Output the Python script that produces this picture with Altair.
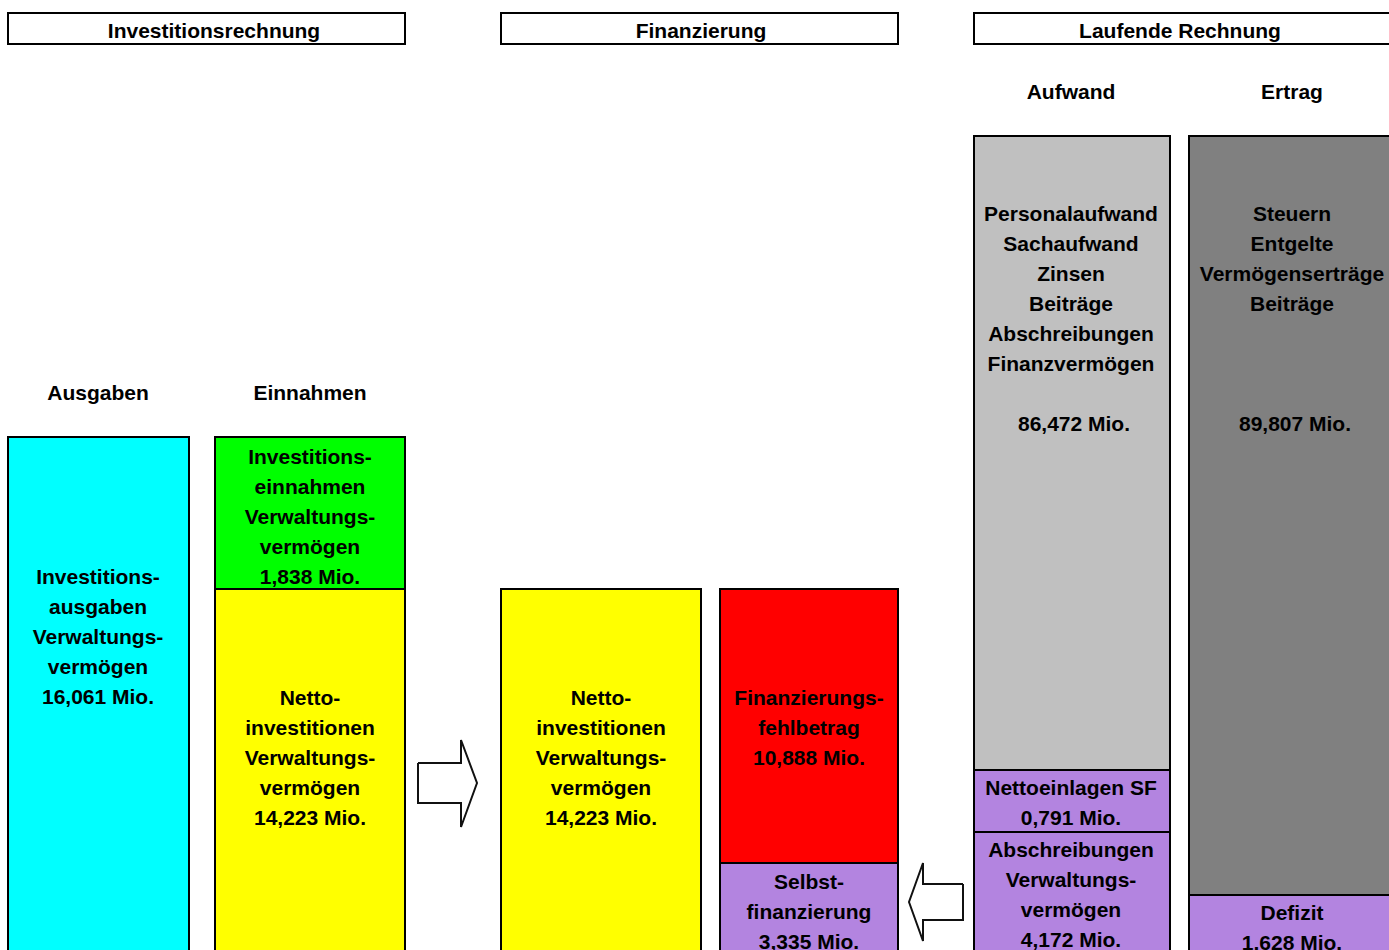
import altair as alt
import pandas as pd

# ---------------- content ----------------
section_titles = ["Investitionsrechnung", "Finanzierung", "Laufende Rechnung"]
column_titles = ["Ausgaben", "Einnahmen", "Aufwand", "Ertrag"]

block_labels = [
    ["Investitions-", "ausgaben", "Verwaltungs-", "vermögen"],
    ["Investitions-", "einnahmen", "Verwaltungs-", "vermögen"],
    ["Netto-", "investitionen", "Verwaltungs-", "vermögen"],
    ["Netto-", "investitionen", "Verwaltungs-", "vermögen"],
    ["Finanzierungs-", "fehlbetrag"],
    ["Selbst-", "finanzierung"],
    ["Personalaufwand", "Sachaufwand", "Zinsen", "Beiträge", "Abschreibungen", "Finanzvermögen", ""],
    ["Steuern", "Entgelte", "Vermögenserträge", "Beiträge", "", "", ""],
    ["Nettoeinlagen SF"],
    ["Abschreibungen", "Verwaltungs-", "vermögen"],
    ["Defizit"],
]
block_amounts = [16.061, 1.838, 14.223, 14.223, 10.888, 3.335, 86.472, 89.807, 0.791, 4.172, 1.628]
block_colors = ["#00FFFF", "#00FF00", "#FFFF00", "#FFFF00", "#FF0000", "#B384E0",
                "#C0C0C0", "#808080", "#B384E0", "#B384E0", "#B384E0"]

# ---------------- layout (diagram units) ----------------
box_left = [8, 215, 215, 501, 720, 720, 974, 1189, 974, 974, 1189]
box_right = [189, 405, 405, 701, 898, 898, 1170, 1400, 1170, 1170, 1400]
box_top = [437, 437, 589, 589, 589, 863, 136, 136, 770, 832, 895]
box_bottom = [965, 589, 965, 965, 863, 965, 770, 895, 832, 965, 965]
text_x = [98, 310, 310, 601, 809, 809, 1071, 1292, 1071, 1071, 1292]
amount_dx = [0, 0, 0, 0, 0, 0, 3, 3, 0, 0, 0]
text_top = [578, 458, 699, 699, 699, 883, 215, 215, 789, 851, 914]
line_step = 30

section_left = [8, 501, 974]
section_right = [405, 898, 1400]
section_text_x = [214, 701, 1180]
section_top, section_bottom, section_text_y = 13, 44, 32
column_x = [98, 310, 1071, 1292]
column_y = [394, 394, 93, 93]

arrow_right_x = [418, 461, 461, 477, 461, 461, 418, 418]
arrow_right_y = [763, 763, 740, 783, 827, 803, 803, 763]
arrow_left_x = [963, 923, 923, 909, 923, 923, 963, 963]
arrow_left_y = [884, 884, 863, 902, 941, 920, 920, 884]

# ---------------- tables ----------------
def fmt(v):
    return f"{v:.3f}".replace(".", ",") + " Mio."

boxes = pd.DataFrame({
    "x0": box_left + section_left,
    "x1": box_right + section_right,
    "y0": box_top + [section_top] * 3,
    "y1": box_bottom + [section_bottom] * 3,
    "fill": block_colors + ["#FFFFFF"] * 3,
})

rows = []
for i, lines in enumerate(block_labels):
    for j, t in enumerate(lines):
        if t:
            rows.append({"x": text_x[i], "y": text_top[i] + j * line_step, "text": t})
    rows.append({"x": text_x[i] + amount_dx[i], "y": text_top[i] + len(lines) * line_step,
                 "text": fmt(block_amounts[i])})
for i, t in enumerate(section_titles):
    rows.append({"x": section_text_x[i], "y": section_text_y, "text": t})
for i, t in enumerate(column_titles):
    rows.append({"x": column_x[i], "y": column_y[i], "text": t})
texts = pd.DataFrame(rows)

arrows = pd.DataFrame({
    "x": arrow_right_x + arrow_left_x,
    "y": arrow_right_y + arrow_left_y,
    "order": list(range(8)) + list(range(8)),
    "arrow": ["r"] * 8 + ["l"] * 8,
})

xs = alt.Scale(domain=[0, 1389], nice=False, zero=False)
ys = alt.Scale(domain=[950, 0], nice=False, zero=False)

rects = alt.Chart(boxes).mark_rect(stroke="black", strokeWidth=2).encode(
    x=alt.X("x0:Q", scale=xs, axis=None),
    x2="x1:Q",
    y=alt.Y("y0:Q", scale=ys, axis=None),
    y2="y1:Q",
    fill=alt.Fill("fill:N", scale=None),
)

arrow_lines = alt.Chart(arrows).mark_line(color="#111111", strokeWidth=2, strokeJoin="miter").encode(
    x=alt.X("x:Q", scale=xs, axis=None),
    y=alt.Y("y:Q", scale=ys, axis=None),
    order="order:Q",
    detail="arrow:N",
)

labels = alt.Chart(texts).mark_text(
    font="Liberation Sans", fontWeight="bold", fontSize=21,
    align="center", baseline="middle", color="black",
).encode(
    x=alt.X("x:Q", scale=xs, axis=None),
    y=alt.Y("y:Q", scale=ys, axis=None),
    text="text:N",
)

chart = alt.layer(rects, arrow_lines, labels).properties(
    width=1389, height=950,
    autosize=alt.AutoSizeParams(type="none"),
    padding=0,
    background="white",
).configure_view(stroke=None)

chart.save("out.html", embed_options={"renderer": "svg", "actions": False})
